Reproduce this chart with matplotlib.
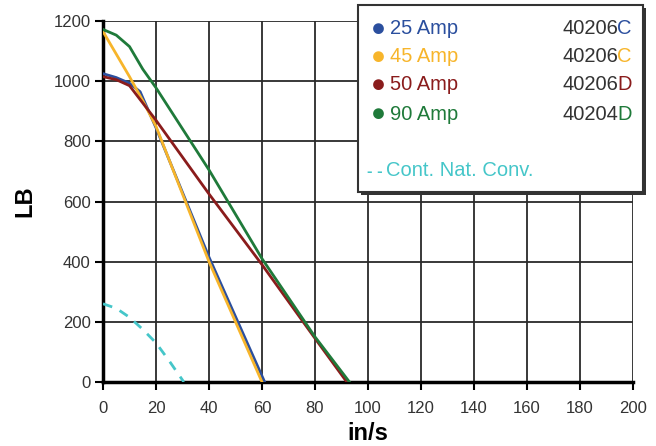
import numpy as np
import matplotlib
matplotlib.use("Agg")
import matplotlib.pyplot as plt
from matplotlib.patches import Rectangle

plt.rcParams['font.family'] = ['Liberation Sans', 'DejaVu Sans']

# curves (speed in/s, force LB)
x_25 = [0, 5, 10, 14, 20, 40, 61]
y_25 = [1025, 1012, 993, 965, 845, 415, 0]
x_45 = [0, 5, 10, 15, 20, 40, 60]
y_45 = [1165, 1090, 1015, 935, 850, 400, 0]
x_50 = [0, 5, 10, 20, 40, 60, 80, 92]
y_50 = [1015, 1005, 985, 870, 625, 390, 145, 0]
x_90 = [0, 5, 10, 15, 20, 40, 60, 80, 93]
y_90 = [1172, 1153, 1115, 1040, 978, 705, 410, 150, 0]
x_nat = [0, 5, 10, 15, 20, 25, 30.5]
y_nat = [260, 245, 215, 175, 130, 70, 0]

amp_labels = ["25 Amp", "45 Amp", "50 Amp", "90 Amp"]
part_nums = ["40206", "40206", "40206", "40204"]
part_suffix = ["C", "C", "D", "D"]
nat_label = "Cont. Nat. Conv."
colors = ["#2b4f9e", "#f7b52b", "#8a1c1c", "#1f7a3a"]
nat_color = "#45c6c9"

x_ticks = list(range(0, 201, 20))
y_ticks = list(range(0, 1201, 200))

fig = plt.figure(figsize=(6.56, 4.46), dpi=100)
ax = fig.add_axes([103 / 656, 64 / 446, 530 / 656, 361 / 446])

for xs, ys, c in zip([x_25, x_45, x_50, x_90], [y_25, y_45, y_50, y_90], colors):
    ax.plot(xs, ys, color=c, lw=2, zorder=3, solid_joinstyle='round')
ax.plot(x_nat, y_nat, color=nat_color, lw=2, ls=(0, (3.5, 3)), zorder=3)

ax.set_xlim(0, 200)
ax.set_ylim(0, 1200)
ax.set_xticks(x_ticks)
ax.set_yticks(y_ticks)
ax.grid(True, color="#2a2a2a", lw=1.3)
ax.set_axisbelow(True)
for s in ['top', 'right']:
    ax.spines[s].set_visible(False)
for s in ['left', 'bottom']:
    ax.spines[s].set_linewidth(2.5)
    ax.spines[s].set_color('black')
ax.tick_params(axis='both', length=6, width=1.5, color='black',
               labelsize=12, labelcolor='#333333')
ax.tick_params(axis='x', pad=8)
ax.tick_params(axis='y', pad=3)
ax.set_xlabel("in/s", fontsize=17, fontweight='bold', labelpad=4)
ax.set_ylabel("LB", fontsize=17, fontweight='bold', labelpad=12)

# legend box
px = lambda x, y: (x / 656, 1 - y / 446)
bx0, by0 = px(358, 192)
bw, bh = 285 / 656, 187 / 446
shadow = Rectangle((bx0 + 3 / 656, by0 - 3 / 446), bw, bh, transform=fig.transFigure,
                   facecolor='#333333', edgecolor='none', zorder=10)
box = Rectangle((bx0, by0), bw, bh, transform=fig.transFigure,
                facecolor='white', edgecolor='#333333', lw=1.5, zorder=11)
fig.patches.extend([shadow, box])

row_y = [29, 57, 85, 114]
for lab, num, suf, c, yy in zip(amp_labels, part_nums, part_suffix, colors, row_y):
    fig.text(*px(378, yy), "\u25cf", color=c, fontsize=18, ha='center', va='center', zorder=12)
    fig.text(*px(390, yy), lab, color=c, fontsize=14.5, ha='left', va='center', zorder=12)
    fig.text(*px(618, yy), num, color='#333333', fontsize=14.5, ha='right', va='center', zorder=12)
    fig.text(*px(617, yy), suf, color=c, fontsize=14.5, ha='left', va='center', zorder=12)
fig.text(*px(367, 171), "- -", color=nat_color, fontsize=12, ha='left', va='center', zorder=12,
         fontweight='bold')
fig.text(*px(386, 171), nat_label, color=nat_color, fontsize=14.5, ha='left', va='center', zorder=12)

fig.savefig("out.png", dpi=100)
